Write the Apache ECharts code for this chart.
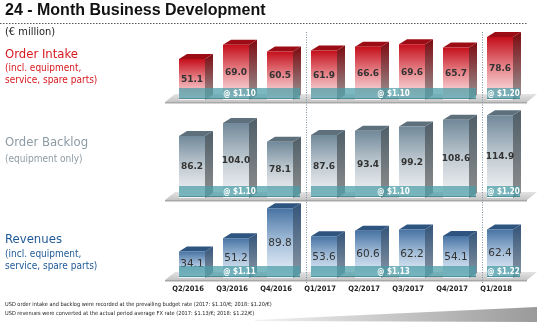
<!DOCTYPE html>
<html>
<head>
<meta charset="utf-8">
<script src="https://cdn.jsdelivr.net/npm/echarts@6/dist/echarts.min.js"></script>
<style>
  html, body { margin: 0; padding: 0; background: #fff; }
  #chart { width: 542px; height: 325px; }
</style>
</head>
<body>
<div id="chart"></div>
<script>
// Quarterly figures, € million
const quarters = ['Q2/2016', 'Q3/2016', 'Q4/2016', 'Q1/2017', 'Q2/2017', 'Q3/2017', 'Q4/2017', 'Q1/2018'];
const orderIntake = [51.1, 69.0, 60.5, 61.9, 66.6, 69.6, 65.7, 78.6];
const orderBacklog = [86.2, 104.0, 78.1, 87.6, 93.4, 99.2, 108.6, 114.9];
const revenues = [34.1, 51.2, 89.8, 53.6, 60.6, 62.2, 54.1, 62.4];

// USD conversion-rate periods (first and last quarter index of each period)
const rateSpans = [[0, 2], [3, 6], [7, 7]];
const intakeRateLabels = ['@ $1.10', '@ $1.10', '@ $1.20'];
const backlogRateLabels = ['@ $1.10', '@ $1.10', '@ $1.20'];
const revenueRateLabels = ['@ $1.11', '@ $1.13', '@ $1.22'];

const FONT = '"DejaVu Sans Condensed", "DejaVu Sans", sans-serif';
const NUM_FONT = '"DejaVu Sans", sans-serif';
const DX = 8, DY = -5, HALF = 13;

const palettes = [
  { front: ['#c40f1b', '#e88a90', '#fbf1f2'], side: ['#7d0a10', '#9a9a9a'], top: '#9c0c14', label: { size: 9, weight: 'bold' } },
  { front: ['#71899a', '#c2ccd3', '#f6f6f8'], side: ['#4f5f69', '#8e8e8e'], top: '#5d707c', label: { size: 9, weight: 'bold' } },
  { front: ['#4773a3', '#a9c2dc', '#eef4fb'], side: ['#34557a', '#8b97a4'], top: '#2e5480', label: { size: 10.5, weight: 'normal' } }
];

function vgrad(stops) {
  return new echarts.graphic.LinearGradient(0, 0, 0, 1,
    stops.map((c, k) => ({ offset: k / (stops.length - 1), color: c })));
}

function barRenderer(pal) {
  return function (params, api) {
    const i = api.value(0), v = api.value(1);
    const top = api.coord([i, v]);
    const base = api.coord([i, 0]);
    const x0 = top[0] - HALF, x1 = top[0] + HALF;
    const yt = top[1], yb = base[1];
    return {
      type: 'group',
      children: [
        { type: 'polygon', shape: { points: [[x1, yt], [x1 + DX, yt + DY], [x1 + DX, yb + DY], [x1, yb]] },
          style: { fill: vgrad(pal.side) } },
        { type: 'polygon', shape: { points: [[x0, yt], [x1, yt], [x1 + DX, yt + DY], [x0 + DX, yt + DY]] },
          style: { fill: pal.top } },
        { type: 'rect', shape: { x: x0, y: yt, width: x1 - x0, height: yb - yt },
          style: { fill: vgrad(pal.front) } },
        { type: 'text', x: top[0], y: (yt + yb) / 2,
          style: { text: api.value(1).toFixed(1), fill: '#333', font: pal.label.weight + ' ' + pal.label.size + 'px ' + NUM_FONT,
                   align: 'center', verticalAlign: 'middle' } }
      ]
    };
  };
}

function floorRenderer(params, api) {
  const a = api.coord([api.value(0), 0]);
  const b = api.coord([api.value(1), 0]);
  const y = a[1];
  const xl = a[0] - 27, xr = b[0] + 27;
  return {
    type: 'group',
    children: [
      { type: 'polygon', shape: { points: [[xl, y + 2], [xr, y + 2], [xr + 10, y - 6], [xl + 10, y - 6]] },
        style: { fill: new echarts.graphic.LinearGradient(0, 0, 0, 1, [
          { offset: 0, color: '#e4e4e4' }, { offset: 1, color: '#c4c4c4' }]) } },
      { type: 'rect', shape: { x: xl, y: y + 2, width: xr - xl, height: 1.5 }, style: { fill: '#a8a8a8' } }
    ]
  };
}

function bandRenderer(labels) {
  return function (params, api) {
    const a = api.coord([api.value(0), 0]);
    const b = api.coord([api.value(1), 0]);
    const y = a[1];
    const xl = a[0] - HALF, xr = b[0] + HALF + 7;
    return {
      type: 'group',
      children: [
        { type: 'rect', shape: { x: xl, y: y - 12, width: xr - xl, height: 11 },
          style: { fill: 'rgba(74,156,166,0.72)' } },
        { type: 'rect', shape: { x: xl, y: y - 2, width: xr - xl, height: 1 },
          style: { fill: 'rgba(40,110,120,0.5)' } },
        { type: 'text', x: (xl + xr) / 2, y: y - 6.5,
          style: { text: labels[params.dataIndex], fill: '#fff', font: 'bold 8px ' + FONT,
                   align: 'center', verticalAlign: 'middle' } }
      ]
    };
  };
}

const gridDefs = [
  { top: 36, height: 64, max: 80 },
  { top: 108, height: 90, max: 125 },
  { top: 208, height: 70, max: 90 }
];
const rowData = [orderIntake, orderBacklog, revenues];
const rowRates = [intakeRateLabels, backlogRateLabels, revenueRateLabels];

const series = [];
rowData.forEach((vals, g) => {
  series.push({ type: 'custom', xAxisIndex: g, yAxisIndex: g, z: 1, silent: true,
    renderItem: floorRenderer, data: [[0, quarters.length - 1]], encode: { x: [0, 1] }, clip: false });
  series.push({ type: 'custom', xAxisIndex: g, yAxisIndex: g, z: 2, silent: true,
    renderItem: barRenderer(palettes[g]), data: vals.map((v, i) => [i, v]), encode: { x: 0, y: 1 }, clip: false });
  series.push({ type: 'custom', xAxisIndex: g, yAxisIndex: g, z: 3, silent: true,
    renderItem: bandRenderer(rowRates[g]), data: rateSpans.map(s => [s[0], s[1]]), encode: { x: [0, 1] }, clip: false });
});

const chart = echarts.init(document.getElementById('chart'), null, { renderer: 'canvas' });

const option = {
  animation: false,
  grid: gridDefs.map(d => ({ left: 170, width: 352, top: d.top, height: d.height })),
  xAxis: gridDefs.map((d, g) => ({
    type: 'category', gridIndex: g, data: quarters, boundaryGap: true,
    axisLine: { show: false }, axisTick: { show: false },
    axisLabel: g === 2 ? { show: true, interval: 0, margin: 7, padding: [0, 8, 0, 0], color: '#222',
      fontFamily: FONT, fontWeight: 'bold', fontSize: 7.5 } : { show: false }
  })),
  yAxis: gridDefs.map((d, g) => ({
    type: 'value', gridIndex: g, min: 0, max: d.max, show: false, splitLine: { show: false }
  })),
  series: series,
  graphic: [
    { type: 'text', left: 5, top: 3, style: { text: '24 - Month Business Development', fill: '#111',
      font: 'bold 16px "Liberation Sans", Arial, sans-serif' } },
    { type: 'line', shape: { x1: 0, y1: 23.5, x2: 527, y2: 23.5 }, style: { stroke: '#555', lineWidth: 1, lineDash: [1.5, 1.5] } },
    { type: 'text', left: 5, top: 27, style: { text: '(€ million)', fill: '#222', font: '11px ' + FONT } },

    { type: 'text', left: 5, top: 48, style: { text: 'Order Intake', fill: '#d71920', font: '13px ' + FONT } },
    { type: 'text', left: 5, top: 63, style: { text: '(incl. equipment,\nservice, spare parts)', fill: '#d71920',
      font: '10px ' + FONT, lineHeight: 11.5 } },

    { type: 'text', left: 5, top: 136, style: { text: 'Order Backlog', fill: '#8d9ba5', font: '13px ' + FONT } },
    { type: 'text', left: 5, top: 154, style: { text: '(equipment only)', fill: '#8d9ba5', font: '10px ' + FONT } },

    { type: 'text', left: 5, top: 233, style: { text: 'Revenues', fill: '#1f5a96', font: '13px ' + FONT } },
    { type: 'text', left: 5, top: 249, style: { text: '(incl. equipment,\nservice, spare parts)', fill: '#1f5a96',
      font: '10px ' + FONT, lineHeight: 11.5 } },

    { type: 'text', left: 5, top: 302, style: { text: 'USD order intake and backlog were recorded at the prevailing budget rate (2017: $1.10/€; 2018: $1.20/€)',
      fill: '#222', font: '5.6px ' + FONT } },
    { type: 'text', left: 5, top: 311, style: { text: 'USD revenues were converted at the actual period average FX rate (2017: $1.13/€; 2018: $1.22/€)',
      fill: '#222', font: '5.6px ' + FONT } },
    { type: 'polygon', shape: { points: [[255, 320], [537, 307], [537, 322], [255, 321]] },
      style: { fill: new echarts.graphic.LinearGradient(0, 0, 1, 0, [
        { offset: 0, color: '#f2f2f2' }, { offset: 1, color: '#9a9a9a' }]) } }
  ]
};

chart.setOption(option);

// Dotted separators between rate periods, placed between the bordering quarters
const sepLines = rateSpans.slice(1).map(s => {
  const left = chart.convertToPixel({ xAxisIndex: 0 }, s[0] - 1);
  const right = chart.convertToPixel({ xAxisIndex: 0 }, s[0]);
  const x = Math.round((left + right) / 2 + 4) + 0.5;
  return { type: 'line', z: 10, shape: { x1: x, y1: 32, x2: x, y2: 283 },
    style: { stroke: '#7f8e9c', lineWidth: 1, lineDash: [1, 1.5] } };
});
chart.setOption({ graphic: option.graphic.concat(sepLines) });
</script>
</body>
</html>
